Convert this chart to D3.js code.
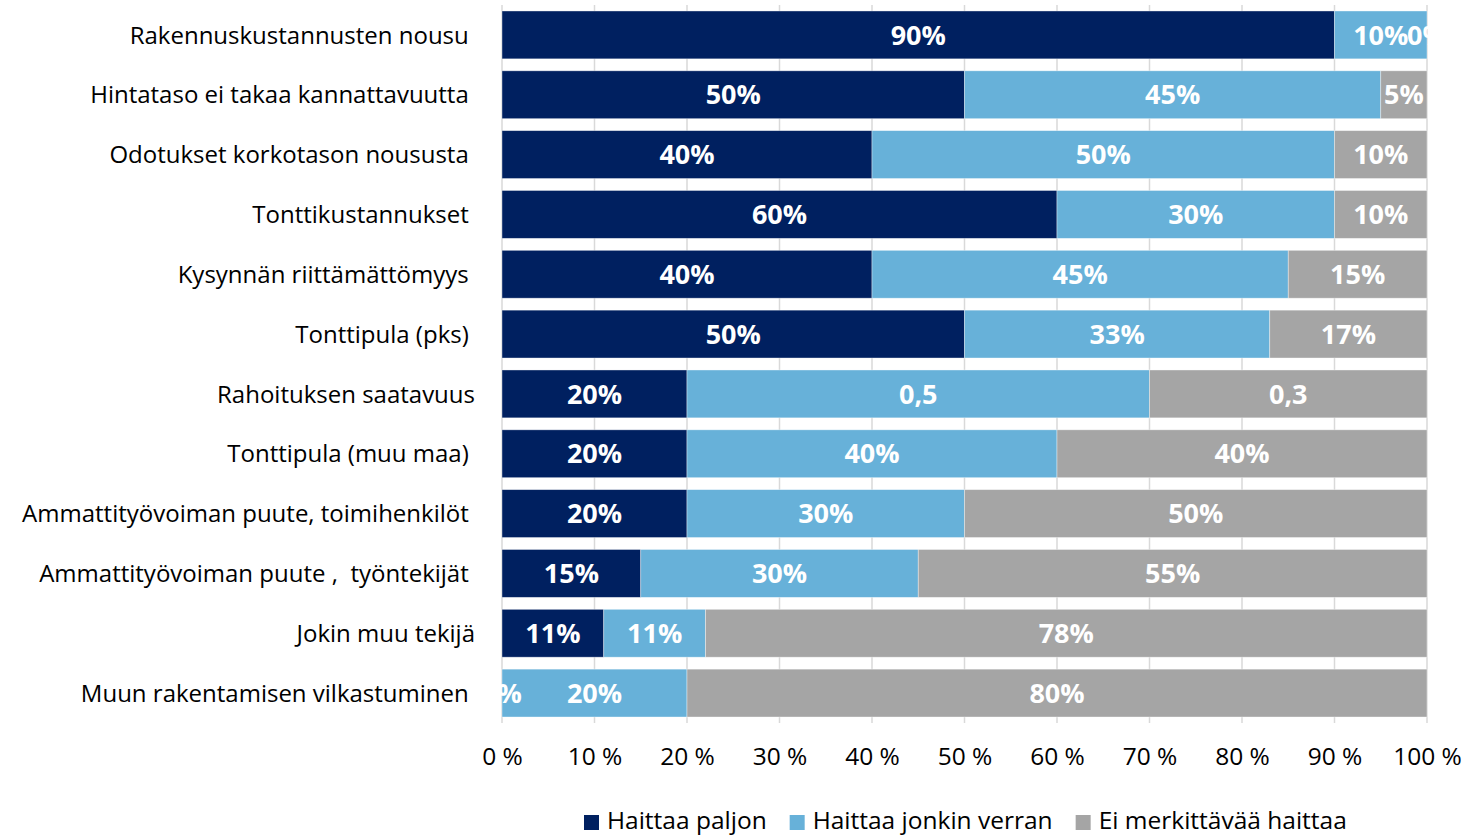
<!DOCTYPE html>
<html>
<head>
<meta charset="utf-8">
<script src="https://cdn.jsdelivr.net/npm/d3@7"></script>
<style>
  html, body { margin: 0; padding: 0; background: #fff; }
  svg { display: block; }
  text { white-space: pre; }
</style>
</head>
<body>
<svg id="chart" width="1465" height="837"></svg>
<script>
// Categories, top to bottom (trailing spaces kept as in the source labels)
const categories = [
  "Rakennuskustannusten nousu ",
  "Hintataso ei takaa kannattavuutta ",
  "Odotukset korkotason noususta ",
  "Tonttikustannukset ",
  "Kysynnän riittämättömyys ",
  "Tonttipula (pks) ",
  "Rahoituksen saatavuus",
  "Tonttipula (muu maa) ",
  "Ammattityövoiman puute, toimihenkilöt ",
  "Ammattityövoiman puute ,  työntekijät ",
  "Jokin muu tekijä",
  "Muun rakentamisen vilkastuminen "
];

// Series shares (fraction of respondents)
const haittaaPaljon      = [0.90, 0.50, 0.40, 0.60, 0.40, 0.50, 0.20, 0.20, 0.20, 0.15, 0.11, 0.00];
const haittaaJonkin      = [0.10, 0.45, 0.50, 0.30, 0.45, 0.33, 0.50, 0.40, 0.30, 0.30, 0.11, 0.20];
const eiMerkittavaa      = [0.00, 0.05, 0.10, 0.10, 0.15, 0.17, 0.30, 0.40, 0.50, 0.55, 0.78, 0.80];

const seriesNames = ["Haittaa paljon", "Haittaa jonkin verran", "Ei merkittävää haittaa"];
const seriesColors = ["#002060", "#67B1D9", "#A5A5A5"];

// Axis tick values and labels
const tickValues = [0, 0.1, 0.2, 0.3, 0.4, 0.5, 0.6, 0.7, 0.8, 0.9, 1.0];
const tickLabels = ["0 %", "10 %", "20 %", "30 %", "40 %", "50 %", "60 %", "70 %", "80 %", "90 %", "100 %"];

// Segments whose data labels are shown as plain decimals
const decimalLabelSegments = { "Rahoituksen saatavuus": [1, 2] };

const seriesValues = [haittaaPaljon, haittaaJonkin, eiMerkittavaa];
const rows = categories.map((c, i) => {
  const r = { category: c };
  seriesNames.forEach((s, k) => { r[s] = seriesValues[k][i]; });
  return r;
});

const FONT = "'Open Sans', sans-serif";
const svg = d3.select("#chart");
const plot = { left: 502, right: 1427, top: 5, bottom: 723 };

const x = d3.scaleLinear().domain([0, 1]).range([plot.left, plot.right]);
const y = d3.scaleBand().domain(categories).range([plot.top, plot.bottom]).paddingInner(0.2).paddingOuter(0.1);

const stacked = d3.stack().keys(seriesNames)(rows);

// Vertical gridlines
svg.append("g")
  .selectAll("line")
  .data(tickValues)
  .join("line")
  .attr("x1", d => x(d)).attr("x2", d => x(d))
  .attr("y1", plot.top).attr("y2", plot.bottom)
  .attr("stroke", "#D9D9D9")
  .attr("stroke-width", 1.5);

// Bars
const layers = svg.append("g")
  .selectAll("g")
  .data(stacked)
  .join("g")
  .attr("fill", (d, i) => seriesColors[i]);

layers.selectAll("rect")
  .data(d => d)
  .join("rect")
  .attr("x", d => x(d[0]))
  .attr("width", d => Math.max(0, x(d[1]) - x(d[0])))
  .attr("y", d => y(d.data.category))
  .attr("height", y.bandwidth())
  .attr("stroke", "#ffffff")
  .attr("stroke-opacity", 0.5)
  .attr("stroke-width", 0.75);

// Data labels
const pct = d3.format(".0%");
const dec = v => d3.format(".1f")(v).replace(".", ",");
const labels = svg.append("g")
  .attr("font-family", FONT)
  .attr("font-weight", 700)
  .attr("font-size", 27)
  .attr("fill", "#ffffff")
  .attr("text-anchor", "middle");

stacked.forEach((layer, k) => {
  labels.selectAll(null)
    .data(layer)
    .join("text")
    .attr("x", d => (x(d[0]) + x(d[1])) / 2)
    .attr("y", d => y(d.data.category) + y.bandwidth() / 2)
    .attr("dy", "0.36em")
    .text(d => {
      const v = d[1] - d[0];
      const dl = decimalLabelSegments[d.data.category];
      return dl && dl.includes(k) ? dec(v) : pct(v);
    });
});

// Category labels
svg.append("g")
  .attr("font-family", FONT)
  .attr("font-size", 24)
  .attr("fill", "#000000")
  .attr("text-anchor", "end")
  .selectAll("text")
  .data(categories)
  .join("text")
  .attr("x", 475)
  .attr("y", d => y(d) + y.bandwidth() / 2)
  .attr("dy", "0.36em")
  .text(d => d);

// Bottom axis labels
const xAxis = d3.axisBottom(x)
  .tickValues(tickValues)
  .tickFormat((d, i) => tickLabels[i])
  .tickSize(0)
  .tickPadding(0);

const axisG = svg.append("g")
  .attr("transform", `translate(0, ${plot.bottom + 25})`)
  .call(xAxis);
axisG.select(".domain").remove();
axisG.selectAll("text")
  .attr("font-family", FONT)
  .attr("font-size", 24.5)
  .attr("fill", "#000000");

// Legend: squares and names laid out left to right from measured text widths
const legend = svg.append("g").attr("transform", "translate(584, 821)");
let cursor = 0;
seriesNames.forEach((name, i) => {
  const g = legend.append("g").attr("transform", `translate(${cursor}, 0)`);
  g.append("rect")
    .attr("x", 0).attr("y", -6)
    .attr("width", 15).attr("height", 15)
    .attr("fill", seriesColors[i]);
  const t = g.append("text")
    .attr("x", 23)
    .attr("dy", "0.33em")
    .attr("font-family", FONT)
    .attr("font-size", 24.5)
    .attr("fill", "#000000")
    .text(name);
  cursor += 23 + t.node().getComputedTextLength() + 23;
});
</script>
</body>
</html>
